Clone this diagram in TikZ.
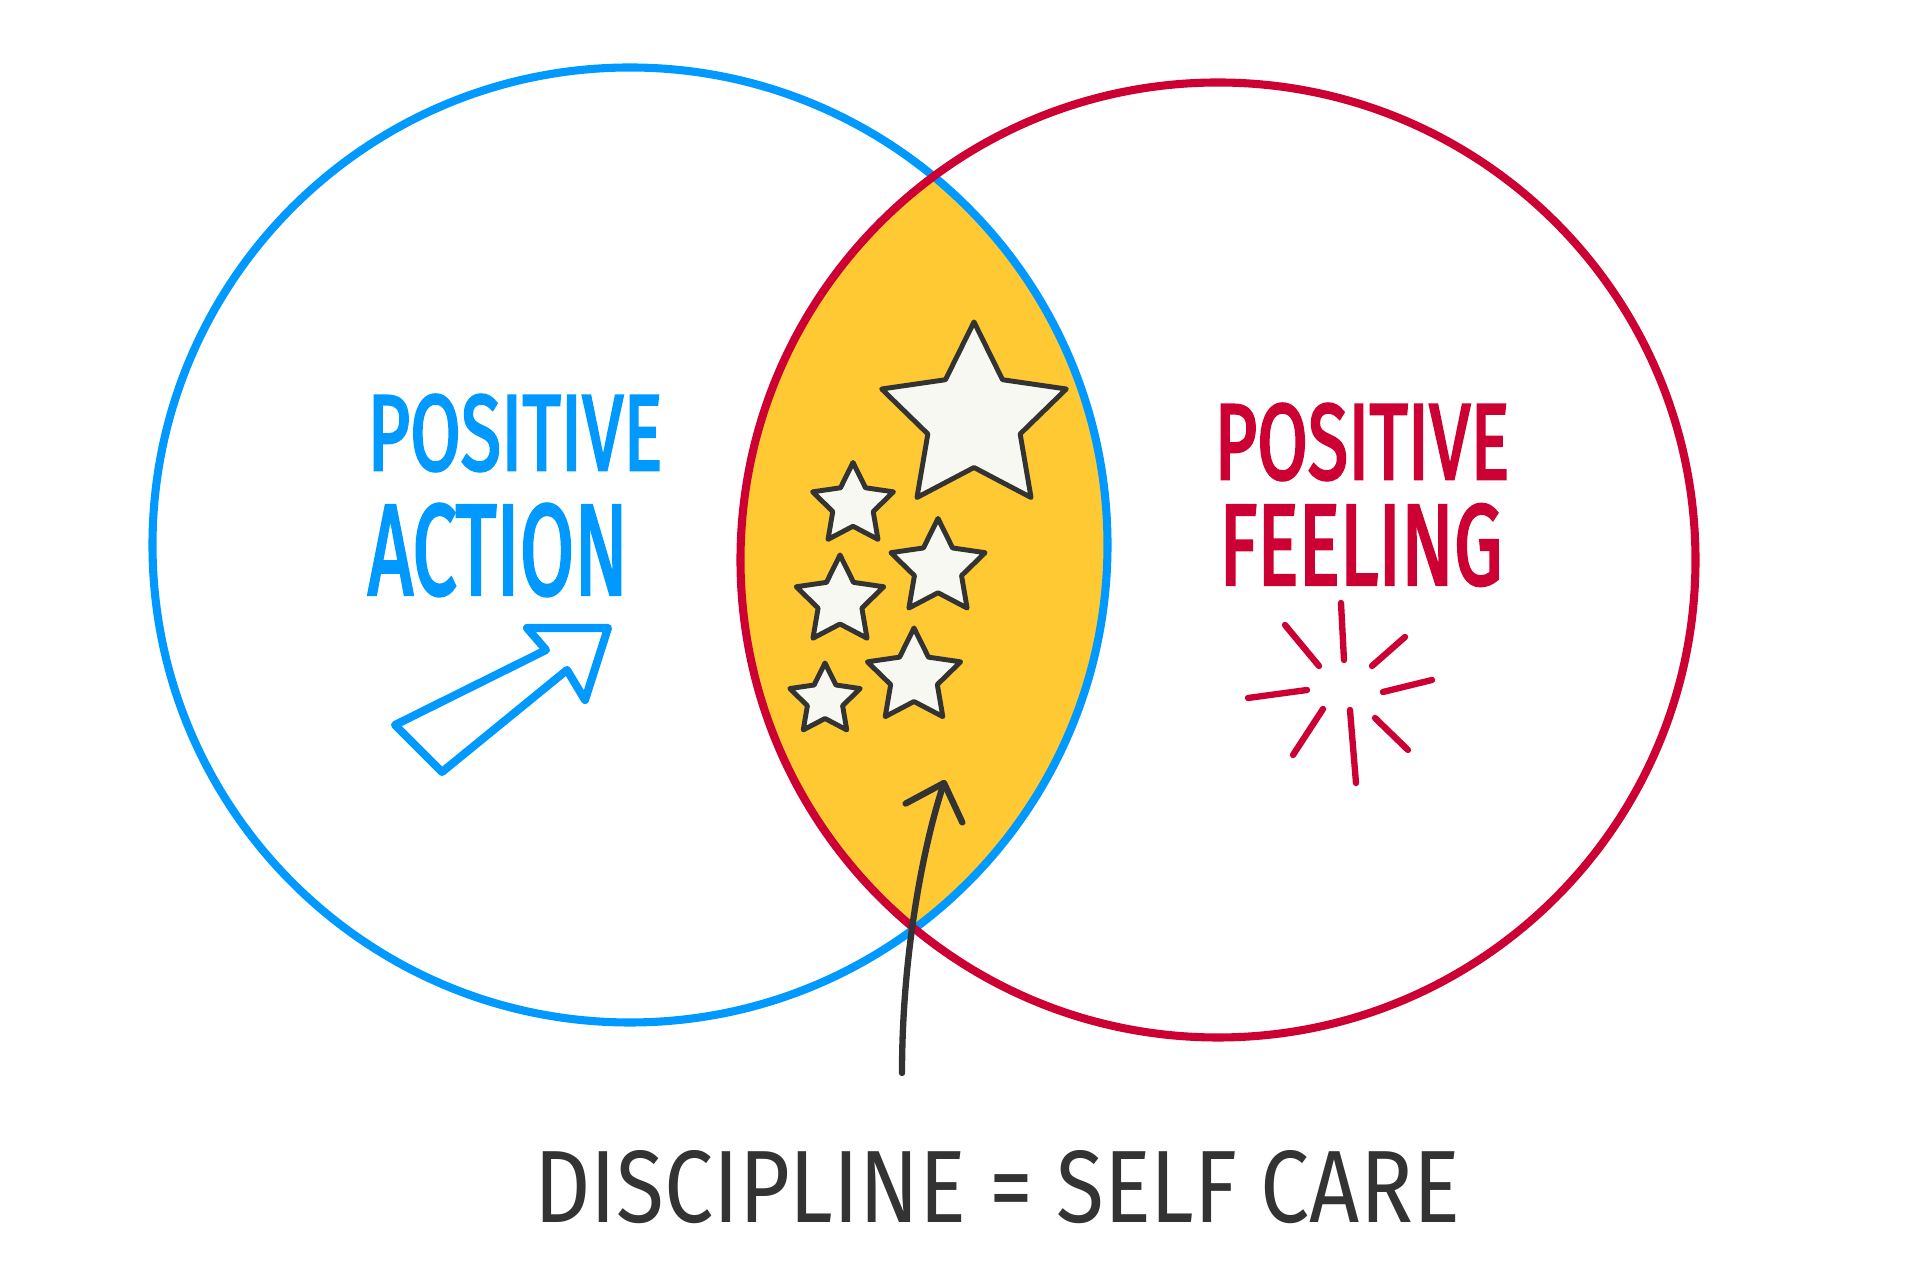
\documentclass[tikz,border=0pt]{standalone}
\usepackage{fontspec}
\usepackage{tikz}
\usepackage{xcolor}
\usetikzlibrary{shapes.geometric,arrows.meta}
\setsansfont{Fira Sans}
\definecolor{actionblue}{RGB}{0,153,255}
\definecolor{feelingred}{RGB}{204,0,51}
\definecolor{lensyellow}{RGB}{255,201,51}
\definecolor{ink}{RGB}{51,51,51}
\definecolor{starwhite}{RGB}{248,248,242}
\tikzset{
    venn-ring/.style = {line width=2.3pt},
    star-box/.style = {star, star points=5, star point ratio=2, draw=ink, fill=starwhite, line width=1.4pt, line join=round, inner sep=0pt},
    hand-label/.style = {inner sep=0pt, font=\sffamily\addfontfeature{FakeBold=3}},
    hand-caption/.style = {inner sep=0pt, text=ink, font=\sffamily},
    hollow-arrow/.style = {draw=actionblue, line width=2.3pt, line join=round, line cap=round},
    pointer-arrow/.style = {draw=ink, line width=1.8pt, line cap=round, -{Straight Barb[length=9pt, width=17pt, round]}},
    burst-ray/.style = {draw=feelingred, line width=1.8pt, line cap=round},
}

\begin{document}
\begin{tikzpicture}[x=0.01cm, y=-0.01cm]
\path[use as bounding box, fill=white] (0,0) rectangle (1920,1280);

\coordinate (action-centre) at (630,545);
\coordinate (feeling-centre) at (1218,560);

\begin{scope}
\clip (action-centre) circle[radius=477.5];
\fill[lensyellow] (feeling-centre) circle[radius=477.5];
\end{scope}
\draw[venn-ring, actionblue] (action-centre) circle[radius=477.5];
\draw[venn-ring, feelingred] (feeling-centre) circle[radius=477.5];

\node[hand-label, text=actionblue] (action-top) at (515,433) {\resizebox{2.95cm}{0.75cm}{POSITIVE}};
\node[hand-label, text=actionblue] (action-bottom) at (498,550) {\resizebox{2.6cm}{0.9cm}{ACTION}};
\draw[hollow-arrow] (395,725) -- (546,650) -- (527,628) -- (608,628) -- (585,700) -- (567,670) -- (442,772) -- cycle;

\node[hand-label, text=feelingred] (feeling-top) at (1362,442) {\resizebox{2.95cm}{0.75cm}{POSITIVE}};
\node[hand-label, text=feelingred] (feeling-bottom) at (1361,545) {\resizebox{2.83cm}{0.8cm}{FEELING}};
\foreach \xa/\ya/\xb/\yb in {1341/603/1344/660, 1285/625/1319/666, 1405/637/1372/666, 1248/698/1307/690,
                             1383/692/1432/680, 1323/709/1293/755, 1350/710/1356/783, 1375/718/1408/750}
    \draw[burst-ray] (\xa,\ya) -- (\xb,\yb);

\node[star-box, minimum size=1.94cm] (star-big) at (974,419) {};
\node[star-box, minimum size=0.85cm] (star-a) at (853,505) {};
\node[star-box, minimum size=0.99cm] (star-b) at (938,568) {};
\node[star-box, minimum size=0.92cm] (star-c) at (840,601) {};
\node[star-box, minimum size=0.98cm] (star-d) at (914,677) {};
\node[star-box, minimum size=0.74cm] (star-e) at (825,700) {};

\node[hand-caption] (discipline) at (997,1187) {\resizebox{9.25cm}{0.72cm}{DISCIPLINE = SELF CARE}};
\coordinate (arrow-tail) at (902,1073);
\coordinate (arrow-tip) at (945,780);
\draw[pointer-arrow] (arrow-tail) .. controls (902,950) and (925,840) .. (arrow-tip);
\end{tikzpicture}
\end{document}
